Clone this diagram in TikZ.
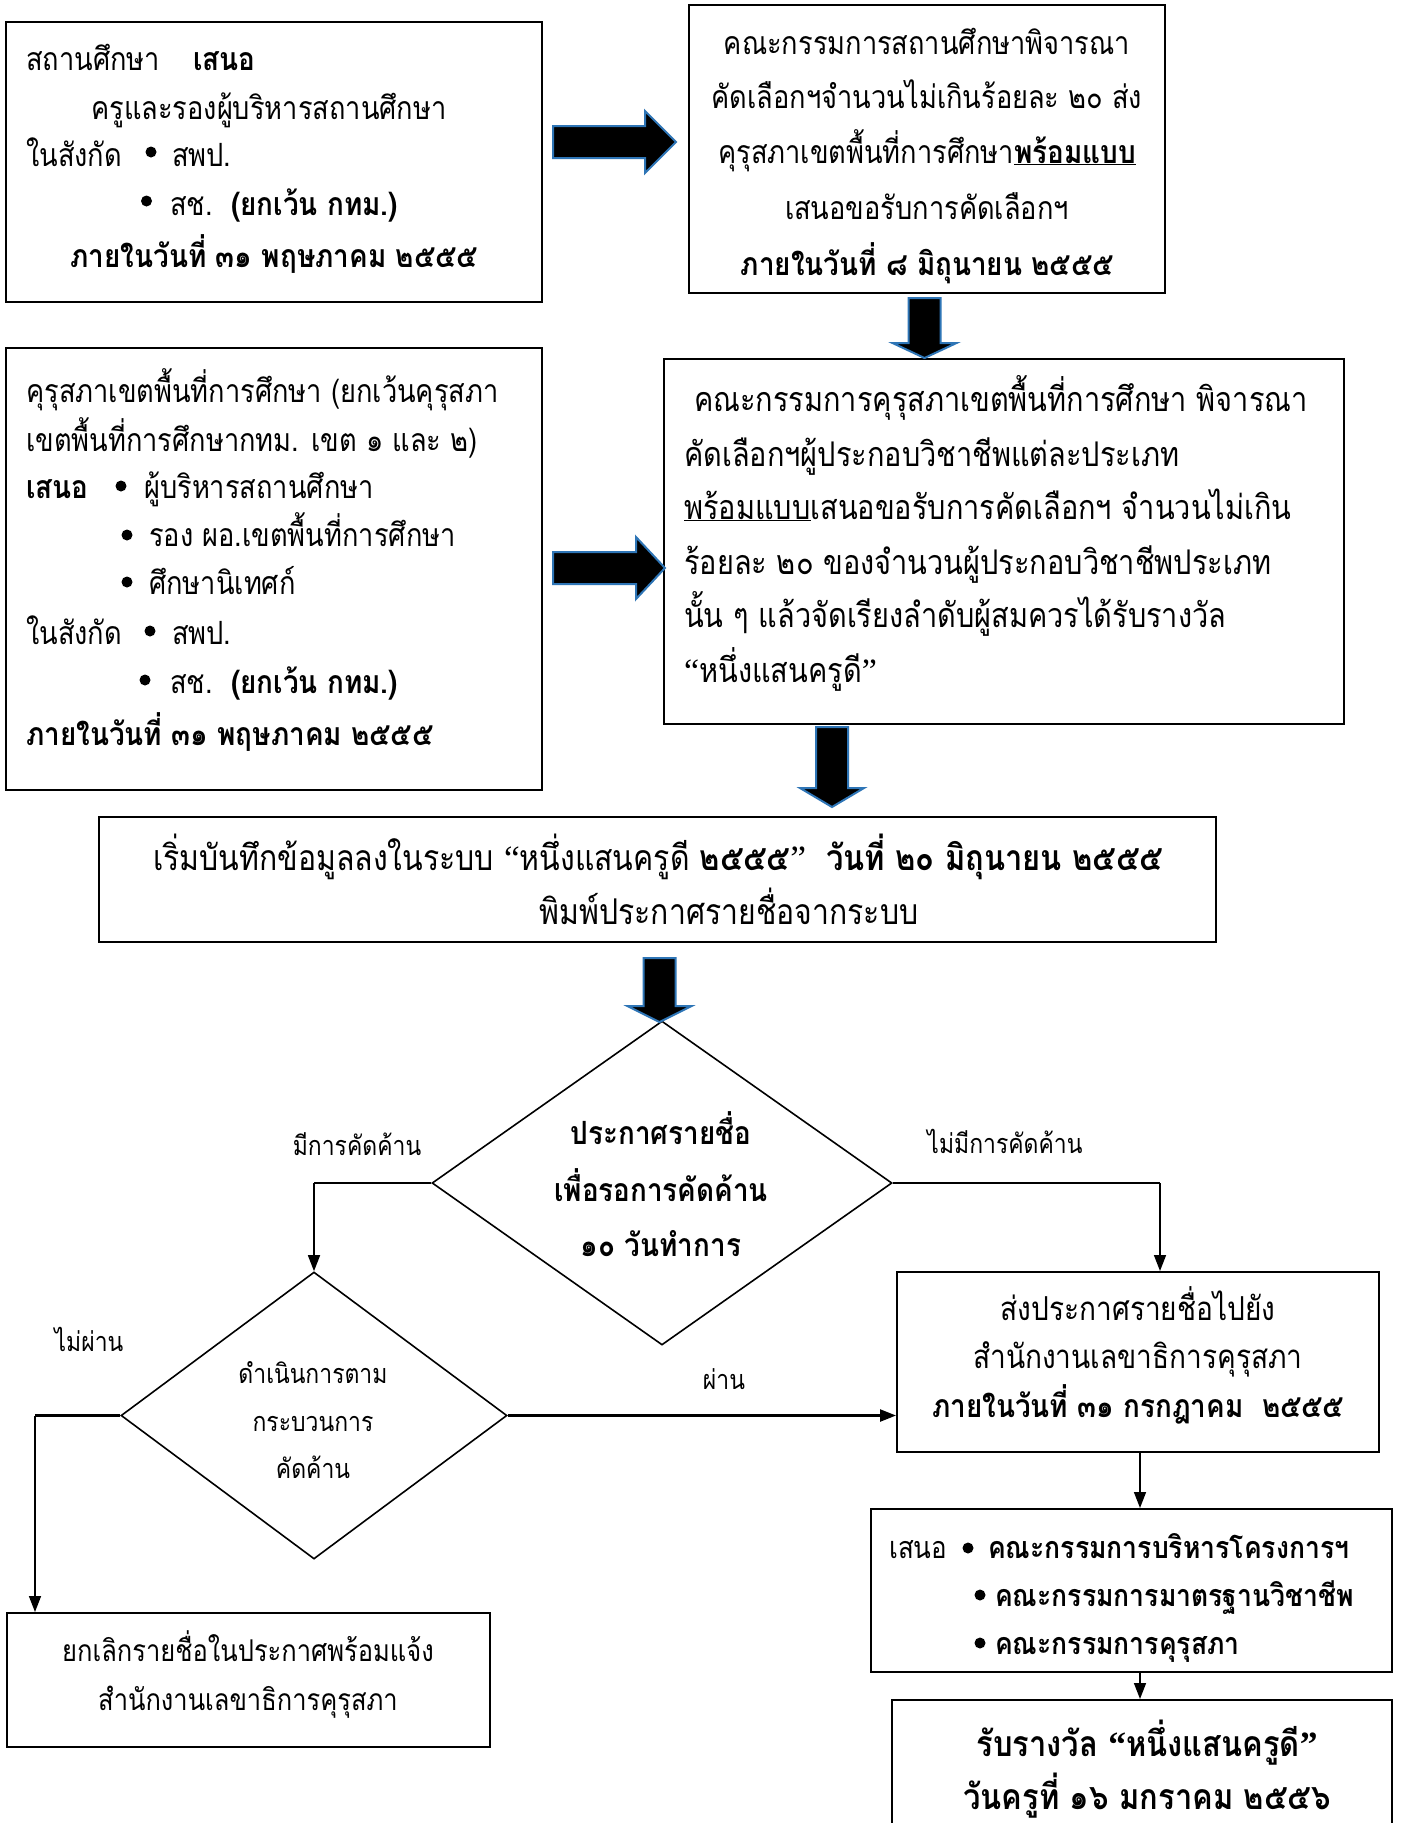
\documentclass[tikz,border=0pt]{standalone}
\usepackage{fontspec}
\setmainfont{Loma}[Script=Thai, FakeStretch=0.85, BoldFeatures={FakeStretch=0.87}]
\newfontfamily\qf{Liberation Serif}
\newcommand\lqt{{\qf “}}
\newcommand\rqt{{\qf ”}}
\usetikzlibrary{arrows.meta,shapes.geometric}
\definecolor{arrowblue}{RGB}{46,117,182}
\newcommand\rblk[4]{\draw[blk] (#1,#4-16) -- (#2,#4-16) -- (#2,#4-31) -- (#3,#4) -- (#2,#4+31) -- (#2,#4+16) -- (#1,#4+16) -- cycle;}
\newcommand\dblk[4]{\draw[blk] (#1-16,#2) -- (#1+16,#2) -- (#1+16,#3) -- (#1+32,#3) -- (#1,#4) -- (#1-32,#3) -- (#1-16,#3) -- cycle;}
\tikzset{
  box/.style={draw=black, line width=2pt, inner sep=0pt},
  dia/.style={diamond, draw=black, line width=1.6pt, inner sep=0pt},
  tl/.style={inner sep=0pt, anchor=base west, font=\fontsize{32}{40}\selectfont},
  tc/.style={inner sep=0pt, anchor=base, font=\fontsize{32}{40}\selectfont},
  big/.style={font=\fontsize{34}{40}\selectfont},
  bige/.style={font=\fontsize{35.5}{40}\selectfont},
  small/.style={font=\fontsize{27}{34}\selectfont},
  gbox/.style={font=\fontsize{30}{38}\selectfont},
  fbox/.style={font=\fontsize{33}{40}\selectfont},
  hbox/.style={font=\fontsize{30.5}{38}\selectfont},
  huge/.style={font=\fontsize{35.5}{44}\selectfont\bfseries},
  blk/.style={fill=black, draw=arrowblue, line width=2pt, line join=miter},
  conn/.style={draw=black, line width=1.5pt, -{Triangle[length=16pt,width=12pt]}},
  hline/.style={draw=black, line width=2.4pt},
  bul/.style={fill=black},
}
\begin{document}
\begin{tikzpicture}[x=1pt,y=-1pt]
\clip (0,0) rectangle (1401,1823);
\fill[white] (0,0) rectangle (1401,1823);

% ---- boxes
\node[box, minimum width=536, minimum height=280] (A) at (274,162) {};
\node[box, minimum width=476, minimum height=288] (B) at (927,149) {};
\node[box, minimum width=536, minimum height=442] (C) at (274,569) {};
\node[box, minimum width=680, minimum height=365] (D) at (1004,541.5) {};
\node[box, minimum width=1117, minimum height=125] (E) at (657.5,879.5) {};
\node[dia, minimum width=460, minimum height=324] (q1) at (662,1183) {};
\node[dia, minimum width=386, minimum height=287] (q2) at (314,1415.5) {};
\node[box, minimum width=482, minimum height=180] (F) at (1138,1362) {};
\node[box, minimum width=483, minimum height=134] (G) at (248.5,1680) {};
\node[box, minimum width=521, minimum height=163] (H) at (1131.5,1590.5) {};
\node[box, minimum width=500, minimum height=200] (I) at (1142,1800) {};

% ---- block arrows
\rblk{553}{645}{676}{142}
\rblk{553}{636}{665}{568}
\dblk{924.5}{298}{343}{358}
\dblk{832}{727}{788}{807}
\dblk{659.5}{958}{1006}{1022}

% ---- connectors
\draw[hline] (q1.west) -- (q1.west -| q2.north);
\draw[conn] (q1.west -| q2.north) -- (q2.north);
\coordinate (rF) at ([xshift=22pt]F.north);
\draw[hline] (q1.east) -- (q1.east -| rF);
\draw[conn] (q1.east -| rF) -- (rF);
\draw[conn, line width=2.4pt] (q2.east) -- (q2.east -| F.west);
\coordinate (gT) at ([xshift=29pt]G.north west);
\draw[hline] (q2.west) -- (q2.west -| gT);
\draw[conn] (q2.west -| gT) -- (gT);
\draw[conn] ([xshift=2pt]F.south) -- ([xshift=2pt]F.south |- H.north);
\draw[conn] ([xshift=2pt]F.south |- H.south) -- ([xshift=2pt]F.south |- I.north);

% ---- Box A text
\node[tl] (a1) at (26,70) {สถานศึกษา};
\node[tl] (a1b) at (193,70) {\bfseries เสนอ};
\node[tl] (a2) at (91,119) {ครูและรองผู้บริหารสถานศึกษา};
\node[tl] (a3) at (26,166) {ในสังกัด};
\node[tl] (a3b) at (172,166) {สพป.};
\node[tl] (a4) at (170,215) {สช.};
\node[tl] (a4b) at (231,215) {\bfseries (ยกเว้น กทม.)};
\node[tc] (a5) at (274,267) {\bfseries ภายในวันที่ ๓๑ พฤษภาคม ๒๕๕๕};
\fill[bul] (151,152) circle (5.5);
\fill[bul] (146.5,201) circle (5.5);

% ---- Box B text
\node[tc] (b1) at (927,54) {คณะกรรมการสถานศึกษาพิจารณา};
\node[tc] (b2) at (927,108) {คัดเลือกฯจำนวนไม่เกินร้อยละ ๒๐ ส่ง};
\node[tc] (b3) at (927,163) {คุรุสภาเขตพื้นที่การศึกษา\underline{\bfseries พร้อมแบบ}};
\node[tc] (b4) at (927,219) {เสนอขอรับการคัดเลือกฯ};
\node[tc] (b5) at (927,275) {\bfseries ภายในวันที่ ๘ มิถุนายน ๒๕๕๕};

% ---- Box C text
\node[tl] (c1) at (26,402) {คุรุสภาเขตพื้นที่การศึกษา (ยกเว้นคุรุสภา};
\node[tl] (c2) at (26,451) {เขตพื้นที่การศึกษากทม. เขต ๑ และ ๒)};
\node[tl] (c3) at (26,498) {\bfseries เสนอ};
\node[tl] (c3b) at (144,498) {ผู้บริหารสถานศึกษา};
\node[tl] (c4b) at (149,546) {รอง ผอ.เขตพื้นที่การศึกษา};
\node[tl] (c5b) at (149,594) {ศึกษานิเทศก์};
\node[tl] (c6) at (26,644) {ในสังกัด};
\node[tl] (c6b) at (172,644) {สพป.};
\node[tl] (c7) at (170,693) {สช.};
\node[tl] (c7b) at (231,693) {\bfseries (ยกเว้น กทม.)};
\node[tl] (c8) at (26,745) {\bfseries ภายในวันที่ ๓๑ พฤษภาคม ๒๕๕๕};
\fill[bul] (121,486) circle (5.5);
\fill[bul] (127,535) circle (5.5);
\fill[bul] (127,582) circle (5.5);
\fill[bul] (150,631) circle (5.5);
\fill[bul] (145,680) circle (5.5);

% ---- Box D text
\node[tl, big] (dt1) at (694,411) {คณะกรรมการคุรุสภาเขตพื้นที่การศึกษา พิจารณา};
\node[tl, big] (dt2) at (684,466) {คัดเลือกฯผู้ประกอบวิชาชีพแต่ละประเภท};
\node[tl, big] (dt3) at (684,519) {\underline{พร้อมแบบ}เสนอขอรับการคัดเลือกฯ จำนวนไม่เกิน};
\node[tl, big] (dt4) at (684,574) {ร้อยละ ๒๐ ของจำนวนผู้ประกอบวิชาชีพประเภท};
\node[tl, big] (dt5) at (684,627) {นั้น ๆ แล้วจัดเรียงลำดับผู้สมควรได้รับรางวัล};
\node[tl, big] (dt6) at (684,682) {\lqt หนึ่งแสนครูดี\rqt};

% ---- Box E text
\node[tc, bige] (e1) at (658,870) {เริ่มบันทึกข้อมูลลงในระบบ \lqt หนึ่งแสนครูดี \textbf{๒๕๕๕}\rqt\ \ \textbf{วันที่ ๒๐ มิถุนายน ๒๕๕๕}};
\node[tc, bige] (e2) at (729,924) {พิมพ์ประกาศรายชื่อจากระบบ};

% ---- diamond texts
\node[tc] (q1a) at (661,1144) {\bfseries ประกาศรายชื่อ};
\node[tc] (q1b) at (661,1201) {\bfseries เพื่อรอการคัดค้าน};
\node[tc] (q1c) at (661,1256) {\bfseries ๑๐ วันทำการ};
\node[tc, small] (q2a) at (313,1383) {ดำเนินการตาม};
\node[tc, small] (q2b) at (313,1431) {กระบวนการ};
\node[tc, small] (q2c) at (313,1478) {คัดค้าน};

% ---- labels
\node[tc, small] (l1) at (357,1155) {มีการคัดค้าน};
\node[tc, small] (l2) at (1005,1153) {ไม่มีการคัดค้าน};
\node[tc, small] (l3) at (89,1351) {ไม่ผ่าน};
\node[tc, small] (l4) at (724,1389) {ผ่าน};

% ---- Box F text
\node[tc, fbox] (f1) at (1138,1320) {ส่งประกาศรายชื่อไปยัง};
\node[tc, fbox] (f2) at (1138,1368) {สำนักงานเลขาธิการคุรุสภา};
\node[tc] (f3) at (1138,1417) {\bfseries ภายในวันที่ ๓๑ กรกฎาคม\ \ ๒๕๕๕};

% ---- Box G text
\node[tc, gbox] (g1) at (248,1661) {ยกเลิกรายชื่อในประกาศพร้อมแจ้ง};
\node[tc, gbox] (g2) at (248,1710) {สำนักงานเลขาธิการคุรุสภา};

% ---- Box H text
\node[tl, hbox] (h1) at (889,1558) {เสนอ};
\node[tl, hbox] (h1b) at (988,1558) {\bfseries คณะกรรมการบริหารโครงการฯ};
\node[tl, hbox] (h2) at (995,1606) {\bfseries คณะกรรมการมาตรฐานวิชาชีพ};
\node[tl, hbox] (h3) at (995,1654) {\bfseries คณะกรรมการคุรุสภา};
\fill[bul] (968,1548) circle (5.5);
\fill[bul] (980,1595) circle (5.5);
\fill[bul] (980,1643) circle (5.5);

% ---- Box I text
\node[tc, huge] (i1) at (1147,1756) {รับรางวัล \lqt หนึ่งแสนครูดี\rqt};
\node[tc, huge] (i2) at (1147,1809) {วันครูที่ ๑๖ มกราคม ๒๕๕๖};
\end{tikzpicture}
\end{document}
